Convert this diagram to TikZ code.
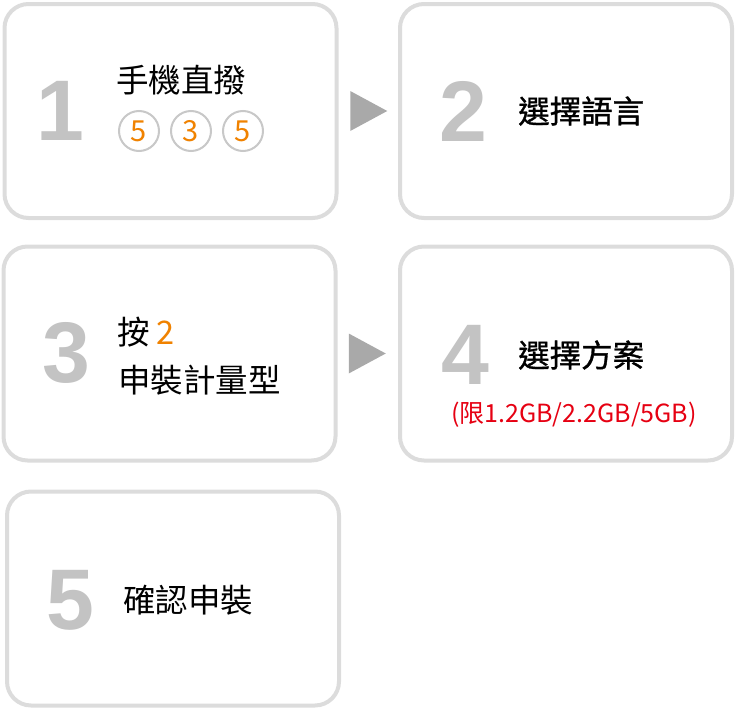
\documentclass[tikz,border=0pt]{standalone}
\usepackage{fontspec}
\usepackage{tikz}
\usetikzlibrary{calc}
\setmainfont{Noto Sans CJK TC}
\newfontfamily\cjkheavy[FakeBold=1]{Noto Sans CJK TC}
\newfontfamily\numfont{Liberation Sans}
\definecolor{boxGray}{RGB}{220,220,220}
\definecolor{numGray}{RGB}{195,195,195}
\definecolor{arrGray}{RGB}{169,169,169}
\definecolor{ringGray}{RGB}{200,200,200}
\definecolor{stepOrange}{RGB}{240,130,0}
\definecolor{noteRed}{RGB}{230,0,18}

\begin{document}
\begin{tikzpicture}[x=1pt, y=-1pt,
    stepbox/.style={rectangle, rounded corners=24pt, draw=boxGray, fill=white,
                    line width=4pt, minimum width=332pt, minimum height=214pt, inner sep=0pt},
    bignum/.style={font=\numfont\bfseries\fontsize{86}{86}\selectfont, text=numGray, inner sep=0pt},
    label/.style={font=\fontsize{32.5}{36}\selectfont, anchor=west, inner sep=0pt, align=left},
    hlabel/.style={font=\cjkheavy\fontsize{31.5}{36}\selectfont, anchor=west, inner sep=0pt},
    ring/.style={circle, draw=ringGray, line width=2pt, minimum size=40pt, inner sep=0pt,
                 text=stepOrange, font=\fontsize{29}{29}\selectfont},
    tri/.style={arrGray}
  ]
  \useasboundingbox (0,0) rectangle (737,712);

  % boxes
  \node[stepbox] (s1) at (170.5, 111)   {};
  \node[stepbox] (s2) at (566,   111)   {};
  \node[stepbox] (s3) at (169.5, 353.5) {};
  \node[stepbox] (s4) at (566,   353.5) {};
  \node[stepbox] (s5) at (173,   598.5) {};

  % step numbers
  \node[bignum] (n1) at (60, 111) {1};
  \node[bignum] (n2) at (463, 111) {2};
  \node[bignum] (n3) at (66, 353) {3};
  \node[bignum] (n4) at (465, 355) {4};
  \node[bignum] (n5) at (70, 600) {5};

  % step texts
  \node[label] (t1) at (116, 80) {手機直撥};
  \node[ring] (r1) at (139, 131) {5};
  \node[ring] (r2) at (191, 131) {3};
  \node[ring] (r3) at (243, 131) {5};

  \node[hlabel] (t2) at (518, 111) {選擇語言};

  \node[label] (t3a) at (117, 332) {按 \textcolor{stepOrange}{2}};
  \node[label] (t3b) at (118, 380) {申裝計量型};

  \node[hlabel] (t4) at (518, 355) {選擇方案};
  \node[font=\fontsize{25}{25}\selectfont, text=noteRed, inner sep=0pt] (t4n) at (574, 415)
       {(限1.2GB/2.2GB/5GB)};

  \node[label] (t5) at (123, 600) {確認申裝};

  % arrows between boxes
  \coordinate (a12) at ($(s1.east)!0.5!(s2.west)$);
  \coordinate (a34) at ($(s3.east)!0.5!(s4.west)$);
  \fill[tri] (a12) ++(-18,-20) -- ++(37,20) -- ++(-37,20) -- cycle;
  \fill[tri] (a34) ++(-19,-20) -- ++(37,20) -- ++(-37,20) -- cycle;
\end{tikzpicture}
\end{document}
